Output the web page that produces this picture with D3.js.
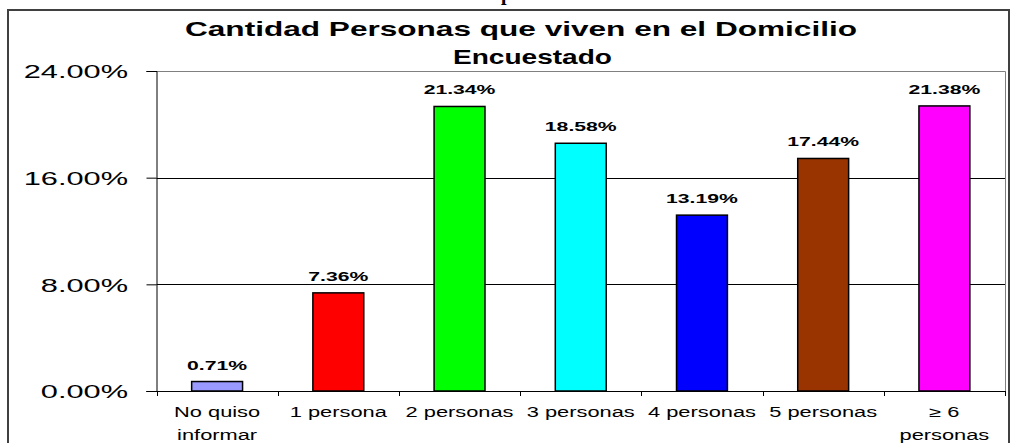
<!DOCTYPE html>
<html>
<head>
<meta charset="utf-8">
<title>Cantidad Personas que viven en el Domicilio Encuestado</title>
<style>
  body, html { margin: 0; padding: 0; background: #fff; }
  svg { display: block; }
  text { font-family: Arial, "Liberation Sans", sans-serif; fill: #000; }
  .bar { stroke: #000; stroke-width: 1.5px; }
  .grid { stroke: #000; stroke-width: 1px; }
</style>
</head>
<body>
<svg id="svg" width="1012" height="443"></svg>
<script src="https://cdnjs.cloudflare.com/ajax/libs/d3/7.8.5/d3.min.js"></script>
<script>
// data
const categories = ['No quiso\ninformar', '1 persona', '2 personas', '3 personas', '4 personas', '5 personas', '\u2265 6\npersonas']
const values = [0.71, 7.36, 21.34, 18.58, 13.19, 17.44, 21.38]
const colors = ['#9999FF', '#FF0000', '#00FF00', '#00FFFF', '#0000FF', '#993300', '#FF00FF']
const yTicks = [0, 8, 16, 24]
const titleLines = ['Cantidad Personas que viven en el Domicilio', 'Encuestado']

const svg = d3.select('#svg')

// plot area
const plotLeft = 156.5, plotRight = 1005, plotTop = 71, plotBottom = 391

const x = d3.scaleBand()
  .domain(categories)
  .range([plotLeft, plotRight])
  .padding(0)

const y = d3.scaleLinear()
  .domain([0, 24])
  .range([plotBottom, plotTop])

const barW = x.bandwidth() * 0.42

// the text in the picture is stretched sideways, so stretch ours the same way
function place(sel, tx, ty, sx) {
  sel.attr('transform', (d, i) => `translate(${typeof tx === 'function' ? tx(d, i) : tx},${typeof ty === 'function' ? ty(d, i) : ty}) scale(${sx},1)`)
}

// outer frame
svg.append('path')
  .attr('d', `M8,450V10H1009V450`)
  .attr('fill', 'none')
  .attr('stroke', '#404040')
  .attr('stroke-width', 2)

// bit of the line above that got cut off
svg.append('text')
  .attr('x', 501).attr('y', 0)
  .style('font-family', '"Liberation Serif", "Times New Roman", serif')
  .style('font-size', '20px')
  .style('font-weight', 'bold')
  .text('p')

// title
svg.selectAll('.title')
  .data(titleLines)
  .enter().append('text')
  .attr('class', 'title')
  .attr('x', (d, i) => i === 0 ? 185 : 453)
  .attr('y', (d, i) => i === 0 ? 36 : 64)
  .attr('textLength', (d, i) => i === 0 ? 672 : 159)
  .attr('lengthAdjust', 'spacingAndGlyphs')
  .style('font-size', '21px')
  .style('font-weight', 'bold')
  .text(d => d)

// gridlines
svg.selectAll('.grid')
  .data(yTicks.filter(d => d > 0 && d < 24))
  .enter().append('line')
  .attr('class', 'grid')
  .attr('x1', plotLeft).attr('x2', plotRight)
  .attr('y1', d => Math.round(y(d)) + 0.5)
  .attr('y2', d => Math.round(y(d)) + 0.5)

// plot border (top and right)
svg.append('path')
  .attr('d', `M${plotLeft},${plotTop + 0.5}H${plotRight + 0.5}V${plotBottom}`)
  .attr('fill', 'none')
  .attr('stroke', '#808080')
  .attr('stroke-width', 1)

// bars
svg.selectAll('.bar')
  .data(values)
  .enter().append('rect')
  .attr('class', 'bar')
  .attr('x', (d, i) => x(categories[i]) + (x.bandwidth() - barW) / 2)
  .attr('width', barW)
  .attr('y', d => y(d))
  .attr('height', d => y(0) - y(d))
  .style('fill', (d, i) => colors[i])

// value labels
const vl = svg.selectAll('.value')
  .data(values)
  .enter().append('text')
  .attr('class', 'value')
  .style('font-size', '13px')
  .style('font-weight', 'bold')
  .style('text-anchor', 'middle')
  .text(d => d.toFixed(2) + '%')
place(vl, (d, i) => x(categories[i]) + x.bandwidth() / 2, d => y(d) - 12, 1.63)

// y axis
const yAxis = svg.append('g')
  .attr('transform', `translate(${plotLeft},0)`)
  .call(d3.axisLeft(y).tickValues(yTicks).tickSize(10).tickFormat(d => d.toFixed(2) + '%'))
yAxis.select('.domain').attr('stroke', '#000')
yAxis.selectAll('.tick line').attr('stroke', '#000')
yAxis.selectAll('.tick text')
  .attr('x', null)
  .attr('dy', '0.36em')
  .style('font-size', '19px')
  .style('font-family', 'Arial, "Liberation Sans", sans-serif')
  .style('text-anchor', 'end')
  .attr('transform', 'translate(-28.5,0) scale(1.62,1)')

// x axis line
svg.append('line')
  .attr('x1', plotLeft - 10).attr('x2', plotRight + 0.5)
  .attr('y1', plotBottom + 0.5).attr('y2', plotBottom + 0.5)
  .attr('stroke', '#000')

// category boundary ticks
svg.selectAll('.xtick')
  .data(categories.map(c => x(c)).concat([plotRight]))
  .enter().append('line')
  .attr('class', 'xtick')
  .attr('x1', d => Math.round(d) + 0.5).attr('x2', d => Math.round(d) + 0.5)
  .attr('y1', plotBottom).attr('y2', plotBottom + 5)
  .attr('stroke', '#000')

// category labels
const cl = svg.selectAll('.cat')
  .data(categories)
  .enter().append('g')
  .attr('class', 'cat')
  .attr('transform', d => `translate(${x(d) + x.bandwidth() / 2},0)`)

const lines = cl.selectAll('text')
  .data(d => d.split('\n'))
  .enter().append('text')
  .style('font-size', '14px')
  .style('text-anchor', 'middle')
  .text(d => d)
place(lines, 0, (d, i) => 417 + i * 23, 1.56)
</script>
</body>
</html>
